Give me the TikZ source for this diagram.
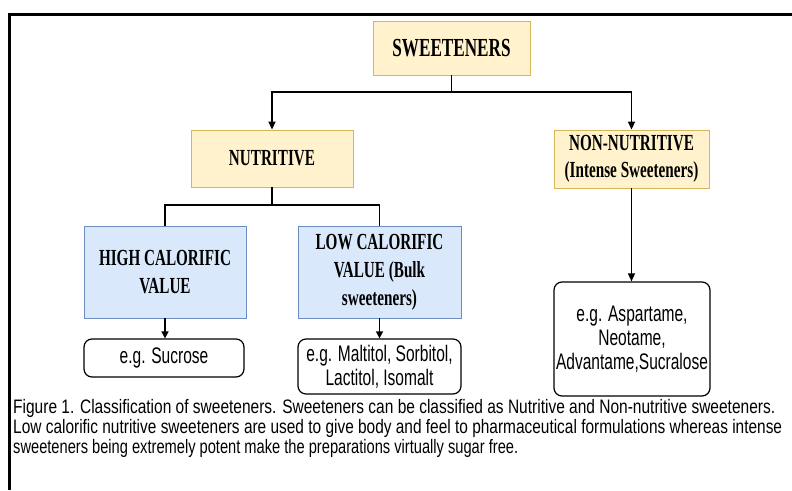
\documentclass[tikz,border=0pt]{standalone}
\usepackage{fontspec}
\usepackage{graphicx}
\usetikzlibrary{arrows.meta}
\newfontfamily\hdfont{Liberation Serif}[FakeStretch=0.66]
\newfontfamily\exfont{Liberation Sans}[FakeStretch=0.69]
\newfontfamily\capfont{Liberation Sans}
\definecolor{yfill}{HTML}{FFF2CC}
\definecolor{ydraw}{HTML}{D6B656}
\definecolor{bfill}{HTML}{DAE8FC}
\definecolor{bdraw}{HTML}{6C8EBF}
\tikzset{
  hdbox/.style={draw=ydraw, fill=yfill, line width=0.8pt, inner sep=0pt, align=center,
    font=\hdfont\bfseries\fontsize{23}{27}\selectfont},
  bluebox/.style={draw=bdraw, fill=bfill, line width=0.8pt, inner sep=0pt, align=center,
    font=\hdfont\bfseries\fontsize{23}{28}\selectfont},
  exbox/.style={draw=black, fill=white, rounded corners=8pt, line width=1.2pt, inner sep=0pt,
    align=center, font=\exfont\fontsize{22.5}{24}\selectfont},
  conn/.style={line width=1.4pt},
  arr/.style={line width=1.4pt, -{Triangle[length=8pt,width=7pt]}},
  sarr/.style={line width=1.4pt, -{Triangle[length=7pt,width=7pt]}},
  captext/.style={inner sep=0pt, font=\capfont\fontsize{19.5}{20}\selectfont},
  frameline/.style={line width=3.5pt}
}
\begin{document}
\begin{tikzpicture}[x=1pt,y=-1pt]
\useasboundingbox (0,0) rectangle (792,490);
\fill[white] (0,0) rectangle (792,490);
% frame
\coordinate (fbl) at (9.5,490);
\coordinate (ftl) at (9.5,14.7);
\coordinate (ftr) at (792,14.7);
\draw[frameline] (fbl) -- (ftl) -- (ftr);
% nodes
\node[hdbox, minimum width=157pt, minimum height=54pt, font=\hdfont\bfseries\fontsize{26}{28}\selectfont] (sw) at (451.5,48) {SWEETENERS};
\node[hdbox, minimum width=162pt, minimum height=57pt] (nut) at (272,158.5) {NUTRITIVE};
\node[hdbox, minimum width=155pt, minimum height=58pt] (non) at (631.5,159) {NON-NUTRITIVE\\(Intense Sweeteners)};
\node[bluebox, minimum width=162pt, minimum height=92pt] (high) at (165,272) {HIGH CALORIFIC\\VALUE};
\node[bluebox, minimum width=163pt, minimum height=92pt] (low) at (379.5,272) {LOW CALORIFIC\\VALUE (Bulk\\sweeteners)};
\node[exbox, minimum width=160pt, minimum height=38pt] (suc) at (164,358) {e.g. Sucrose};
\node[exbox, minimum width=163pt, minimum height=55pt] (mal) at (379.5,366.5) {e.g. Maltitol, Sorbitol,\\Lactitol, Isomalt};
\node[exbox, minimum width=156pt, minimum height=114pt] (asp) at (632,339) {e.g. Aspartame,\\Neotame,\\Advantame,Sucralose};
% connectors
\coordinate (j1) at (451.5,92);
\draw[conn] (sw.south) -- (j1);
\draw[arr] (j1) -| (nut.north);
\draw[arr] (j1) -| (non.north);
\coordinate (j2) at (272,205);
\draw[conn] (nut.south) -- (j2) -| (high.north);
\draw[conn] (j2) -| (low.north);
\draw[sarr] (high.south) -- (high.south |- suc.north);
\draw[sarr] (low.south) -- (mal.north);
\draw[arr] (non.south) -- (non.south |- asp.north);
% caption
\node[captext, anchor=base west] (c1) at (13,413) {\resizebox{762pt}{\height}{Figure 1. Classification of sweeteners. Sweeteners can be classified as Nutritive and Non-nutritive sweeteners.}};
\node[captext, anchor=base west] (c2) at (13,433) {\resizebox{769pt}{\height}{Low calorific nutritive sweeteners are used to give body and feel to pharmaceutical formulations whereas intense}};
\node[captext, anchor=base west] (c3) at (13,453) {\resizebox{505pt}{\height}{sweeteners being extremely potent make the preparations virtually sugar free.}};
\end{tikzpicture}
\end{document}
